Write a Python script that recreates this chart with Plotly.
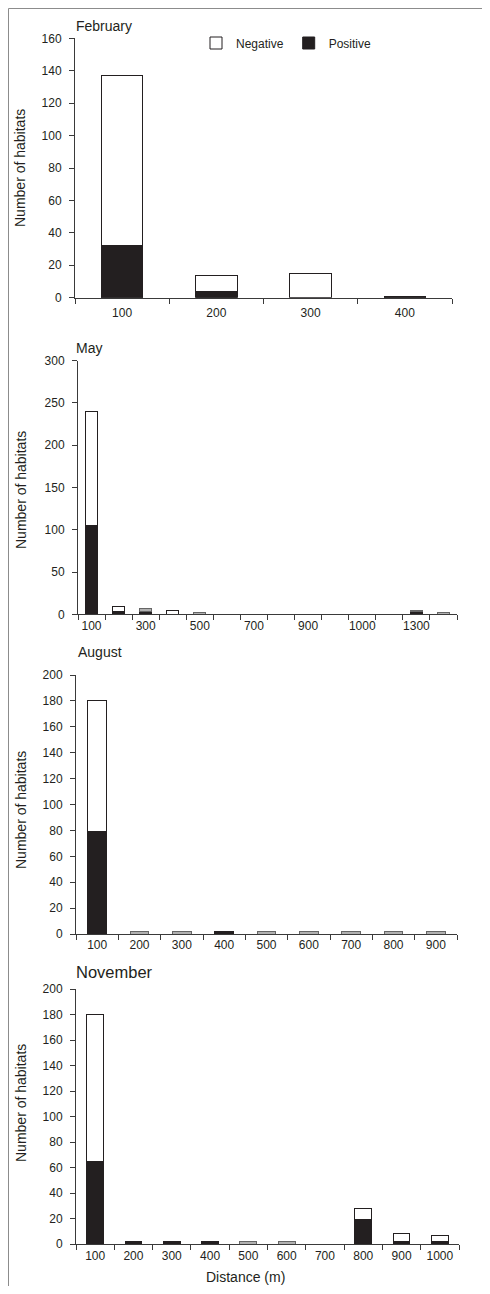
import plotly.graph_objects as go

# ---------------- data ----------------
feb_cats = [100, 200, 300, 400]
feb_pos = [32, 4, 0, 0.6]
feb_neg = [105, 10, 15, 0]
feb_grey = [0, 0, 0, 0]
feb_ticklabels = ["100", "200", "300", "400"]

may_cats = [100, 200, 300, 400, 500, 600, 700, 800, 900, 1000, 1100, 1200, 1300, 1400]
may_pos = [105, 3, 3, 0, 0, 0, 0, 0, 0, 0, 0, 0, 3, 0]
may_neg = [135, 6, 0, 5, 0, 0, 0, 0, 0, 0, 0, 0, 0, 0]
may_grey = [0, 0, 4, 0, 2, 0, 0, 0, 0, 0, 0, 0, 2, 2]
may_ticklabels = ["100", "", "300", "", "500", "", "700", "", "900", "", "1000", "", "1300", ""]

aug_cats = [100, 200, 300, 400, 500, 600, 700, 800, 900]
aug_pos = [79, 0, 0, 2, 0, 0, 0, 0, 0]
aug_neg = [101, 0, 0, 0, 0, 0, 0, 0, 0]
aug_grey = [0, 2, 2, 0, 2, 2, 2, 2, 2]
aug_ticklabels = ["100", "200", "300", "400", "500", "600", "700", "800", "900"]

nov_cats = [100, 200, 300, 400, 500, 600, 700, 800, 900, 1000]
nov_pos = [65, 2, 2, 2, 0, 0, 0, 19, 2, 2]
nov_neg = [115, 0, 0, 0, 0, 0, 0, 9, 6, 5]
nov_grey = [0, 0, 0, 0, 2, 2, 0, 0, 0, 0]
nov_ticklabels = ["100", "200", "300", "400", "500", "600", "700", "800", "900", "1000"]

months = ["February", "May", "August", "November"]

# ---------------- layout helpers ----------------
OFF = 8                      # default body margin of the html page
W, H = 490 - 2 * OFF, 1294 - 2 * OFF
FONT = "Liberation Sans, Arial, sans-serif"
TXT = "#231f20"
AX = "#3a3a3a"
BLACK = "#231f20"
GREY = "#b0b0b0"


def px_x(x):
    return (x - OFF) / W


def px_y(y):
    return 1 - (y - OFF) / H


def nz(vals):
    return [v if v else None for v in vals]


panels = [
    # cats, pos, neg, grey, ticklabels, ymax, dtick, x0,x1, ybottom,ytop, title, tsize, tx, ty, xticklen
    (feb_cats, feb_pos, feb_neg, feb_grey, feb_ticklabels, 160, 20, 75, 452, 297.7, 38.3, months[0], 14, 74, 26, 4),
    (may_cats, may_pos, may_neg, may_grey, may_ticklabels, 300, 50, 78, 457, 614.3, 360.7, months[1], 14, 74, 348, 0),
    (aug_cats, aug_pos, aug_neg, aug_grey, aug_ticklabels, 200, 20, 76, 457, 934, 675, months[2], 14, 76, 652, 0),
    (nov_cats, nov_pos, nov_neg, nov_grey, nov_ticklabels, 200, 20, 76, 459, 1244, 989, months[3], 16.5, 74, 972, 1),
]
ytitle_pos = [(20, 168), (21, 490), (21, 810), (21, 1103)]

fig = go.Figure()
annotations = []
for i, (cats, pos, neg, grey, tl, ymax, dt, x0, x1, yb, yt, title, tsize, tx, ty, xtl) in enumerate(panels):
    n = i + 1
    xa = "x" if n == 1 else f"x{n}"
    ya = "y" if n == 1 else f"y{n}"
    idx = list(range(1, len(cats) + 1))
    first = (n == 1)
    fig.add_trace(go.Bar(x=idx, y=nz(pos), name="Positive", xaxis=xa, yaxis=ya,
                         marker=dict(color=BLACK, line=dict(color=BLACK, width=1)),
                         showlegend=first, legendrank=2, hoverinfo="skip",
                         customdata=cats))
    fig.add_trace(go.Bar(x=idx, y=nz(neg), name="Negative", xaxis=xa, yaxis=ya,
                         marker=dict(color="white", line=dict(color=BLACK, width=1)),
                         showlegend=first, legendrank=1, hoverinfo="skip",
                         customdata=cats))
    fig.add_trace(go.Bar(x=idx, y=nz(grey), name="Other", xaxis=xa, yaxis=ya,
                         marker=dict(color=GREY, line=dict(color="#666666", width=1)),
                         showlegend=False, hoverinfo="skip", customdata=cats))

    xkey = "xaxis" if n == 1 else f"xaxis{n}"
    ykey = "yaxis" if n == 1 else f"yaxis{n}"
    bounds = [k + 0.5 for k in range(0, len(cats) + 1)]
    fig.layout[xkey] = dict(
        domain=[px_x(x0), px_x(x1)], anchor=ya, range=[0.5, len(cats) + 0.5],
        tickmode="array", tickvals=idx, ticktext=tl,
        ticks="outside" if xtl else "", ticklen=max(xtl, 1), tickcolor="rgba(0,0,0,0)",
        showline=True, linecolor=AX, linewidth=1, showgrid=False, zeroline=False,
        tickfont=dict(family=FONT, size=12, color=TXT), automargin=False,
        minor=dict(tickmode="array", tickvals=bounds, ticks="outside", ticklen=5,
                   tickcolor=AX, tickwidth=1, showgrid=False),
        fixedrange=True,
    )
    fig.layout[ykey] = dict(
        domain=[px_y(yb), px_y(yt)], anchor=xa, range=[0, ymax],
        tickmode="linear", tick0=0, dtick=dt,
        ticks="outside", ticklen=5, tickcolor=AX, ticklabelstandoff=5,
        showline=True, linecolor=AX, linewidth=1, showgrid=False, zeroline=False,
        tickfont=dict(family=FONT, size=12, color=TXT), automargin=False,
        fixedrange=True,
    )
    annotations.append(dict(text=title, xref="paper", yref="paper", x=px_x(tx), y=px_y(ty),
                            xanchor="left", yanchor="middle", showarrow=False,
                            font=dict(family=FONT, size=tsize, color=TXT)))
    yx, yy = ytitle_pos[i]
    annotations.append(dict(text="Number of habitats", xref="paper", yref="paper",
                            x=px_x(yx), y=px_y(yy), xanchor="center", yanchor="middle",
                            textangle=-90, showarrow=False,
                            font=dict(family=FONT, size=14, color=TXT)))

annotations.append(dict(text="Distance (m)", xref="paper", yref="paper", x=px_x(245), y=px_y(1277),
                        xanchor="center", yanchor="middle", showarrow=False,
                        font=dict(family=FONT, size=14, color=TXT)))

shapes = [
    dict(type="line", xref="paper", yref="paper", x0=px_x(8.5), x1=1.0, y0=px_y(8.5), y1=px_y(8.5),
         line=dict(color="#8c8c8c", width=1)),
    dict(type="line", xref="paper", yref="paper", x0=px_x(8.5), x1=px_x(8.5), y0=px_y(8.5), y1=0,
         line=dict(color="#8c8c8c", width=1)),
]

fig.update_layout(
    width=W, height=H, margin=dict(l=0, r=0, t=0, b=0, autoexpand=False),
    paper_bgcolor="white", plot_bgcolor="white",
    barmode="stack", bargap=0.56,
    annotations=annotations, shapes=shapes,
    legend=dict(orientation="h", x=px_x(196), y=px_y(43), xanchor="left", yanchor="middle",
                font=dict(family=FONT, size=12, color=TXT), bgcolor="rgba(0,0,0,0)",
                traceorder="normal", itemwidth=30, tracegroupgap=0),
    font=dict(family=FONT, color=TXT),
)

fig.write_html("out.html")
